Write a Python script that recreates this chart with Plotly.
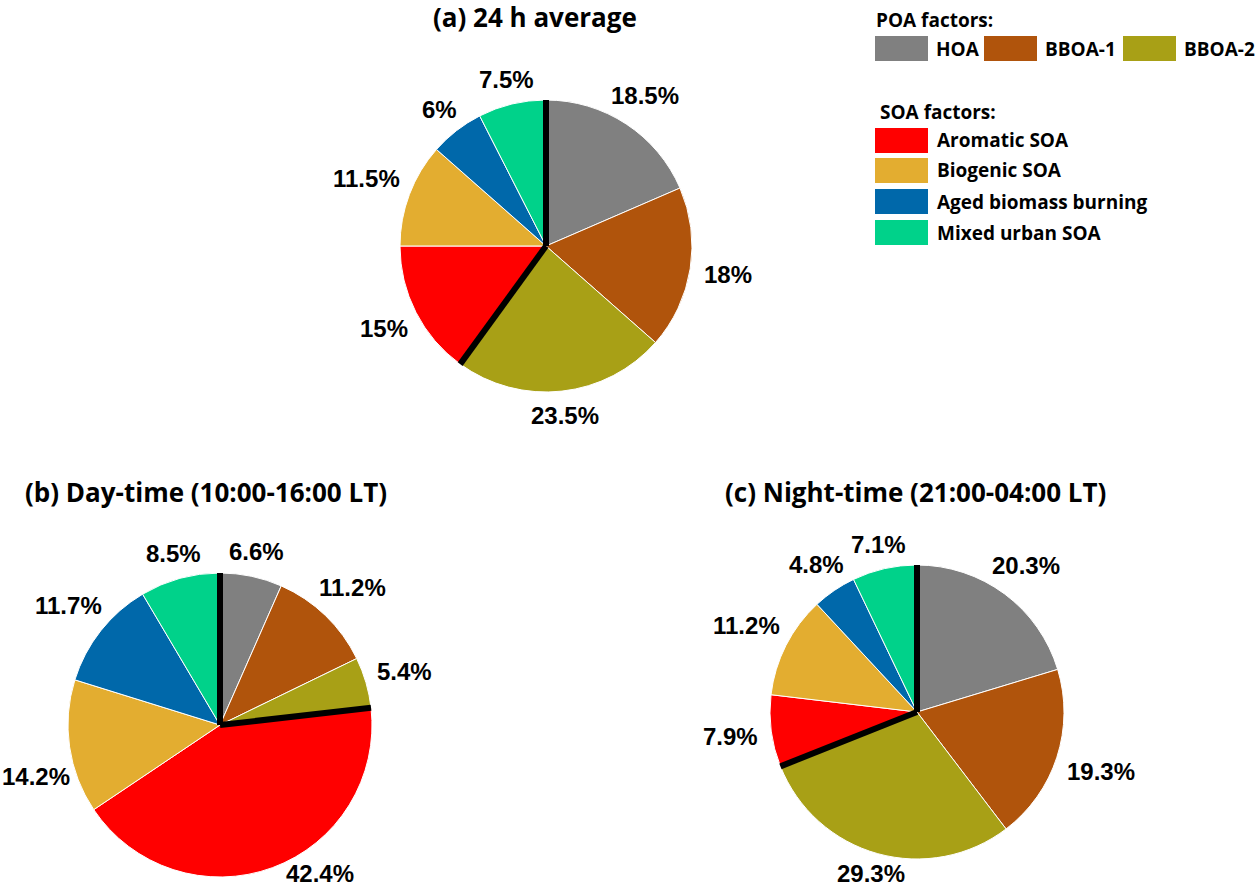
import math
import plotly.graph_objects as go

W, H = 1255, 888

poa_labels = ["HOA", "BBOA-1", "BBOA-2"]
soa_labels = ["Aromatic SOA", "Biogenic SOA", "Aged biomass burning", "Mixed urban SOA"]
labels = poa_labels + soa_labels
colors = ["#808080", "#B0540C", "#A8A016", "#FF0000", "#E3AD30", "#0068AA", "#00D28A"]

avg_24h = [18.5, 18, 23.5, 15, 11.5, 6, 7.5]
daytime = [6.6, 11.2, 5.4, 42.4, 14.2, 11.7, 8.5]
nighttime = [20.3, 19.3, 29.3, 7.9, 11.2, 4.8, 7.1]

titles = ["(a) 24 h average", "(b) Day-time (10:00-16:00 LT)", "(c) Night-time (21:00-04:00 LT)"]

# pie placement in pixels: center x, center y (from top), radius
pies = [
    (avg_24h, 546, 246, 146),
    (daytime, 220, 725, 152),
    (nighttime, 917, 712, 147),
]
title_pos = [(535, 17), (206, 492), (915, 492)]

TITLE_FONT = "Open Sans"
LABEL_FONT = "Liberation Sans"
LABEL_SIZE = 24
CHAR_W = {"%": 0.889, ".": 0.278}


def text_w(s):
    return sum(CHAR_W.get(c, 0.556) for c in s) * LABEL_SIZE


def px(x, y):
    return x / W, 1 - y / H


def half_extent(w, h, dx, dy):
    d = math.hypot(dx, dy) or 1.0
    return math.hypot(w / 2 * dx / d, h / 2 * dy / d)


fig = go.Figure()
shapes = []
annotations = []

for (vals, cx, cy, r) in pies:
    x0d, y0d = px(cx - r, cy + r)
    x1d, y1d = px(cx + r, cy - r)
    fig.add_trace(go.Pie(
        labels=labels,
        values=vals,
        textinfo="none",
        marker=dict(colors=colors, line=dict(color="white", width=1)),
        sort=False,
        direction="clockwise",
        rotation=0,
        showlegend=False,
        hoverinfo="label+percent",
        domain=dict(x=[x0d, x1d], y=[y0d, y1d]),
    ))
    total = sum(vals)
    # percentage labels just outside each slice, at the slice's mid angle
    cum = 0.0
    for v in vals:
        mid = math.radians(360 * (cum + v / 2) / total)
        cum += v
        txt = f"{v:g}%"
        w, h = text_w(txt), 19
        sx, cyv = math.sin(mid), math.cos(mid)
        d = r + 14 + half_extent(w, h, sx, cyv)
        lx, ly = cx + d * sx, cy - d * cyv

        def clear(x, y):
            return math.hypot(x - cx, y - cy) >= r + 6 + half_extent(w, h, x - cx, y - cy)

        # keep the label inside the chart area, sliding it along the edge so it clears the pie
        ymin, ymax = 15, H - 15
        xmin, xmax = w / 2 + 2, W - w / 2 - 2
        if ly > ymax or ly < ymin:
            ly = min(max(ly, ymin), ymax)
            step = 1 if sx >= 0 else -1
            while not clear(lx, ly):
                lx += step
        if lx > xmax or lx < xmin:
            lx = min(max(lx, xmin), xmax)
            step = -1 if cyv >= 0 else 1
            while not clear(lx, ly) and ymin <= ly + step <= ymax:
                ly += step
        ax, ay = px(lx, ly)
        annotations.append(dict(text=f"<b>{txt}</b>", x=ax, y=ay, xref="paper", yref="paper",
                                showarrow=False, xanchor="center", yanchor="middle",
                                font=dict(family=LABEL_FONT, size=LABEL_SIZE, color="black")))
    # thick black separators between POA and SOA
    poa_frac = sum(vals[:len(poa_labels)]) / total
    for frac in (0.0, poa_frac):
        t = 2 * math.pi * frac
        xa, ya = px(cx, cy)
        xb, yb = px(cx + r * math.sin(t), cy - r * math.cos(t))
        shapes.append(dict(type="line", xref="paper", yref="paper",
                           x0=xa, y0=ya, x1=xb, y1=yb,
                           line=dict(color="black", width=6)))

for t, (tx, ty) in zip(titles, title_pos):
    ax, ay = px(tx, ty)
    annotations.append(dict(text=f"<b>{t}</b>", x=ax, y=ay, xref="paper", yref="paper",
                            showarrow=False, xanchor="center", yanchor="middle",
                            font=dict(family=TITLE_FONT, size=26, color="black")))

# custom legend
LEG_FONT = dict(family=TITLE_FONT, size=19, color="black")
for txt, (tx, ty) in [("POA factors:", (874, 20)), ("SOA factors:", (878, 112))]:
    ax, ay = px(tx, ty)
    annotations.append(dict(text=f"<b>{txt}</b>", x=ax, y=ay, xref="paper", yref="paper",
                            showarrow=False, xanchor="left", yanchor="middle", font=LEG_FONT))

poa_box_x = [875, 984, 1123]
for i, lab in enumerate(poa_labels):
    bx = poa_box_x[i]
    shapes.append(dict(type="rect", xref="paper", yref="paper",
                       x0=bx / W, x1=(bx + 53) / W, y0=1 - 61 / H, y1=1 - 36 / H,
                       fillcolor=colors[i], line=dict(width=0)))
    ax, ay = px(bx + 59, 49)
    annotations.append(dict(text=f"<b>{lab}</b>", x=ax, y=ay, xref="paper", yref="paper",
                            showarrow=False, xanchor="left", yanchor="middle", font=LEG_FONT))

soa_box_y = [128, 158, 189, 220]
for j, lab in enumerate(soa_labels):
    by = soa_box_y[j]
    shapes.append(dict(type="rect", xref="paper", yref="paper",
                       x0=875 / W, x1=928 / W, y0=1 - (by + 25) / H, y1=1 - by / H,
                       fillcolor=colors[len(poa_labels) + j], line=dict(width=0)))
    ax, ay = px(935, by + 12.5)
    annotations.append(dict(text=f"<b>{lab}</b>", x=ax, y=ay, xref="paper", yref="paper",
                            showarrow=False, xanchor="left", yanchor="middle", font=LEG_FONT))

fig.update_layout(
    width=W, height=H,
    margin=dict(l=0, r=0, t=0, b=0),
    paper_bgcolor="white", plot_bgcolor="white",
    shapes=shapes, annotations=annotations,
    showlegend=False,
)

fig.write_html("out.html", config={"displayModeBar": False},
               post_script="document.body.style.margin='0px';")
